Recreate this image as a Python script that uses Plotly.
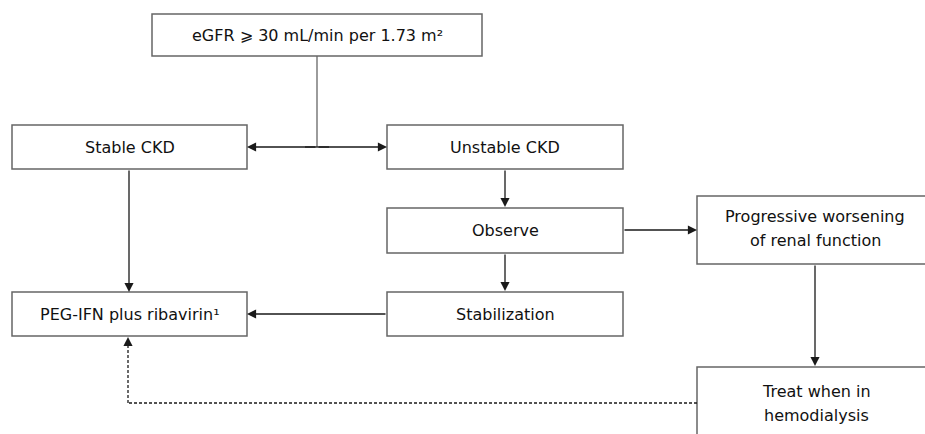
import plotly.graph_objects as go

# ---- data: node labels ----
node_ids = ["top", "stable", "unstable", "observe", "progressive", "stabilization", "peg", "treat"]
node_labels = [
    "eGFR ⩾ 30 mL/min per 1.73 m²",
    "Stable CKD",
    "Unstable CKD",
    "Observe",
    "Progressive worsening|of renal function",
    "Stabilization",
    "PEG-IFN plus ribavirin¹",
    "Treat when in|hemodialysis",
]
# edges: (from, to, style)
edges = [
    ("top", "stable", "solid"),
    ("top", "unstable", "solid"),
    ("stable", "peg", "solid"),
    ("unstable", "observe", "solid"),
    ("observe", "stabilization", "solid"),
    ("observe", "progressive", "solid"),
    ("progressive", "treat", "solid"),
    ("stabilization", "peg", "solid"),
    ("treat", "peg", "dash"),
]

# ---- layout geometry (pixels; x0, y0, x1, y1) ----
boxes = {
    "top": (152, 14, 482, 56),
    "stable": (12, 125, 247, 169),
    "unstable": (387, 125, 623, 169),
    "observe": (387, 208, 623, 253),
    "progressive": (697, 196, 933, 264),
    "stabilization": (387, 292, 623, 336),
    "peg": (12, 292, 247, 336),
    "treat": (697, 367, 933, 445),
}
text_centers = {
    "progressive": (815, 228),
    "treat": (816, 403),
}
LINE_GAP = 24

W, H = 925, 434
BORDER = "#666666"
LINE = "#1a1a1a"
FONT = dict(family="DejaVu Sans, Verdana, sans-serif", size=16, color="#111111")

fig = go.Figure()
shapes = []
annotations = []

for nid, label in zip(node_ids, node_labels):
    x0, y0, x1, y1 = boxes[nid]
    shapes.append(dict(type="rect", xref="x", yref="y", x0=x0, y0=y0, x1=x1, y1=y1,
                       line=dict(color=BORDER, width=1.5), fillcolor="white", layer="below"))
    cx_, cy_ = text_centers.get(nid, ((x0 + x1) / 2, (y0 + y1) / 2))
    parts = label.split("|")
    n = len(parts)
    for i, part in enumerate(parts):
        yy = cy_ + (i - (n - 1) / 2) * LINE_GAP
        annotations.append(dict(x=cx_, y=yy, xref="x", yref="y", text=part, showarrow=False,
                                font=FONT, align="center"))


def arrow(x0, y0, x1, y1):
    annotations.append(dict(x=x1, y=y1, ax=x0, ay=y0, xref="x", yref="y", axref="x", ayref="y",
                            text="", showarrow=True, arrowhead=2, arrowsize=1.4,
                            arrowwidth=1.3, arrowcolor=LINE, standoff=0, startstandoff=0))


def line(x0, y0, x1, y1, dash="solid", color=LINE):
    shapes.append(dict(type="line", xref="x", yref="y", x0=x0, y0=y0, x1=x1, y1=y1,
                       line=dict(color=color, width=1.3, dash=dash)))


def cx(n):
    return (boxes[n][0] + boxes[n][2]) / 2


def cy(n):
    return (boxes[n][1] + boxes[n][3]) / 2


jx = cx("top")
jy = cy("stable")
line(jx, boxes["top"][3], jx, jy, color=BORDER)
line(jx - 12, jy, jx + 12, jy)

for a, b, style in edges:
    if a == "top" and b == "stable":
        arrow(jx, jy, boxes[b][2], jy)
    elif a == "top" and b == "unstable":
        arrow(jx, jy, boxes[b][0], jy)
    elif a == "stable" and b == "peg":
        arrow(129, boxes[a][3], 129, boxes[b][1])
    elif a == "unstable":
        arrow(cx(a), boxes[a][3], cx(a), boxes[b][1] - 1)
    elif a == "observe" and b == "stabilization":
        arrow(cx(a), boxes[a][3], cx(a), boxes[b][1] - 1)
    elif a == "observe" and b == "progressive":
        arrow(boxes[a][2], 230, boxes[b][0], 230)
    elif a == "progressive":
        arrow(815, boxes[a][3], 815, boxes[b][1] - 1)
    elif a == "stabilization":
        arrow(boxes[a][0], cy(a), boxes[b][2], cy(a))
    elif style == "dash":
        line(boxes[a][0], 403, 128, 403, dash="3px,2px")
        line(128, 403, 128, boxes[b][3] + 9, dash="3px,2px")
        arrow(128, boxes[b][3] + 10, 128, boxes[b][3] + 1)

fig.update_layout(
    width=W, height=H,
    margin=dict(l=0, r=0, t=0, b=0),
    paper_bgcolor="white", plot_bgcolor="white",
    xaxis=dict(range=[0, W], visible=False, fixedrange=True),
    yaxis=dict(range=[H, 0], visible=False, fixedrange=True),
    shapes=shapes, annotations=annotations, showlegend=False,
)
fig.write_html("out.html", config={"displayModeBar": False},
               post_script="document.body.style.margin='0';document.body.style.overflow='hidden';")
